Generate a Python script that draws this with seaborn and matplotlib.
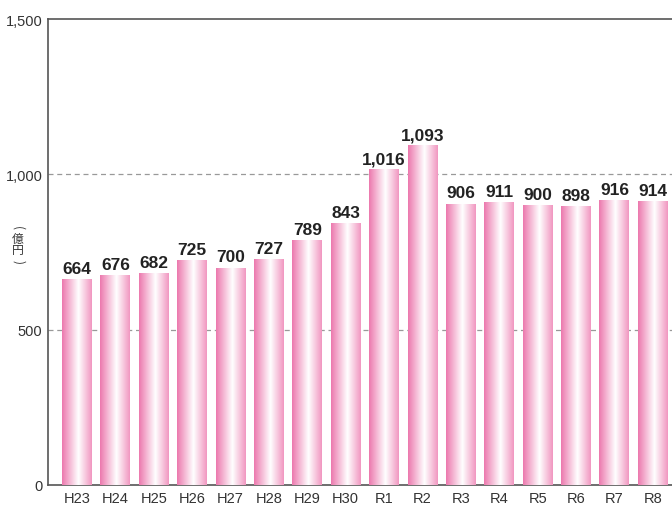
import numpy as np
import pandas as pd
import matplotlib
matplotlib.use('Agg')
import matplotlib.pyplot as plt
import seaborn as sns
from matplotlib.colors import LinearSegmentedColormap

# Data
years = ['H23', 'H24', 'H25', 'H26', 'H27', 'H28', 'H29', 'H30',
         'R1', 'R2', 'R3', 'R4', 'R5', 'R6', 'R7', 'R8']
values = [664, 676, 682, 725, 700, 727, 789, 843,
          1016, 1093, 906, 911, 900, 898, 916, 914]

df = pd.DataFrame({'year': years, 'value': values})

sns.set_style('white')
plt.rcParams['font.family'] = ['Liberation Sans', 'Noto Sans CJK JP', 'DejaVu Sans']

fig = plt.figure(figsize=(6.72, 5.06), dpi=100)
ax = fig.add_axes([48 / 672, 20 / 506, 1 - 48 / 672, 466 / 506])

sns.barplot(data=df, x='year', y='value', ax=ax, width=0.78,
            color='#f39ac2', edgecolor='none', zorder=2)

# pink - white - pink gradient on every bar
cmap = LinearSegmentedColormap.from_list(
    'pinkshine', [(0.0, '#ec78ad'), (0.55, '#ffffff'), (1.0, '#f196c0')])
grad = np.linspace(0, 1, 256).reshape(1, -1)
for p in ax.patches:
    x0, y0 = p.get_x(), p.get_y()
    w, h = p.get_width(), p.get_height()
    im = ax.imshow(grad, cmap=cmap, aspect='auto', zorder=3,
                   extent=[x0, x0 + w, y0, y0 + h])
    im.set_clip_path(p)

# value labels
for i, v in enumerate(values):
    ax.text(i, v + 10, f'{v:,}', ha='center', va='bottom',
            fontsize=12.5, fontweight='bold', color='#222222',
            fontstretch='condensed', zorder=4)

ax.set_ylim(0, 1500)
ax.set_xlim(-0.755, 15.5)
ax.set_yticks([0, 500, 1000, 1500])
ax.set_yticklabels(['0', '500', '1,000', '1,500'])
for y in [500, 1000]:
    ax.axhline(y, color='#999999', linestyle=(0, (4, 3)), linewidth=0.9, zorder=1)

ax.tick_params(axis='both', length=0, labelsize=10.5, colors='#333333', pad=4)
ax.set_xlabel('')
ax.set_ylabel('')
for side in ['left', 'bottom', 'top']:
    ax.spines[side].set_color('#555555')
    ax.spines[side].set_linewidth(1.2)
ax.spines['right'].set_visible(False)

# vertical unit label （億円）
jp = ['Noto Sans CJK JP', 'DejaVu Sans']
ylab_x = 18 / 672
fig.text(ylab_x, 1 - 228 / 506, '(', rotation=-90, ha='center', va='center',
         fontsize=8.5, color='#333333', family=jp)
fig.text(ylab_x, 1 - 239 / 506, '億', ha='center', va='center',
         fontsize=8.5, color='#333333', family=jp)
fig.text(ylab_x, 1 - 251 / 506, '円', ha='center', va='center',
         fontsize=8.5, color='#333333', family=jp)
fig.text(ylab_x, 1 - 262 / 506, ')', rotation=-90, ha='center', va='center',
         fontsize=8.5, color='#333333', family=jp)

fig.savefig('out.png', dpi=100)
